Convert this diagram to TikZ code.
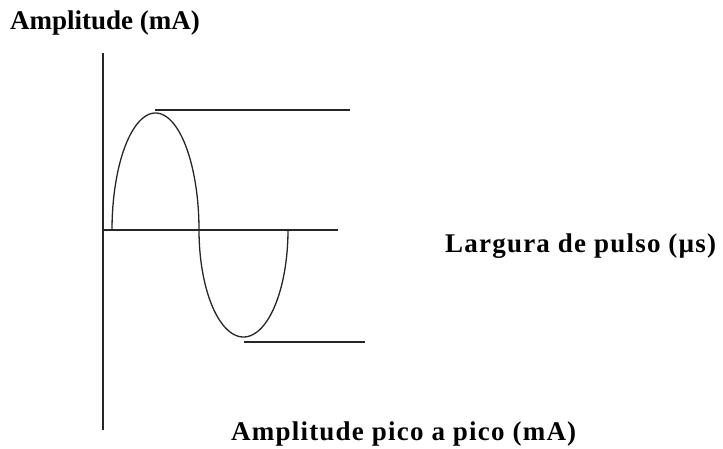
\documentclass[tikz,border=0pt]{standalone}
\usepackage{fontspec}
\setmainfont{Liberation Serif}
\newfontfamily\widefont[LetterSpace=4.5]{Liberation Serif}
\usepackage{tikz}
\usepackage{xcolor}

\begin{document}
\begin{tikzpicture}[x=1pt, y=-1pt,
    axisline/.style={line width=1.6pt, black!85},
    wave/.style={line width=1.3pt, black!85},
    lab/.style={anchor=base west, inner sep=0pt, font=\fontsize{27}{30}\selectfont\bfseries}]
  \useasboundingbox (0,0) rectangle (723,448);

  % Axes
  \coordinate (o) at (103,230);
  \draw[axisline] (103,53) -- (103,430);
  \draw[axisline] (o) -- (338,230);

  % One period of the pulse (positive lobe, then negative lobe)
  \draw[wave, variable=\t, domain=180:360, samples=80] plot ({155.5+43.5*cos(\t)}, {230+117*sin(\t)});
  \draw[wave, variable=\t, domain=180:0, samples=80] plot ({243.5+44.5*cos(\t)}, {230+107*sin(\t)});

  % Peak levels
  \coordinate (top) at (155,110);
  \coordinate (bot) at (244,342);
  \draw[axisline] (top) -- (350,110);
  \draw[axisline] (bot) -- (365,342);

  % Labels
  \node[lab] (amp) at (10,29) {Amplitude (mA)};
  \node[lab] (larg) at (445,252) {\widefont\bfseries Largura de pulso (µs)};
  \node[lab] (ptp) at (231,440) {\widefont\bfseries Amplitude pico a pico (mA)};
\end{tikzpicture}
\end{document}
